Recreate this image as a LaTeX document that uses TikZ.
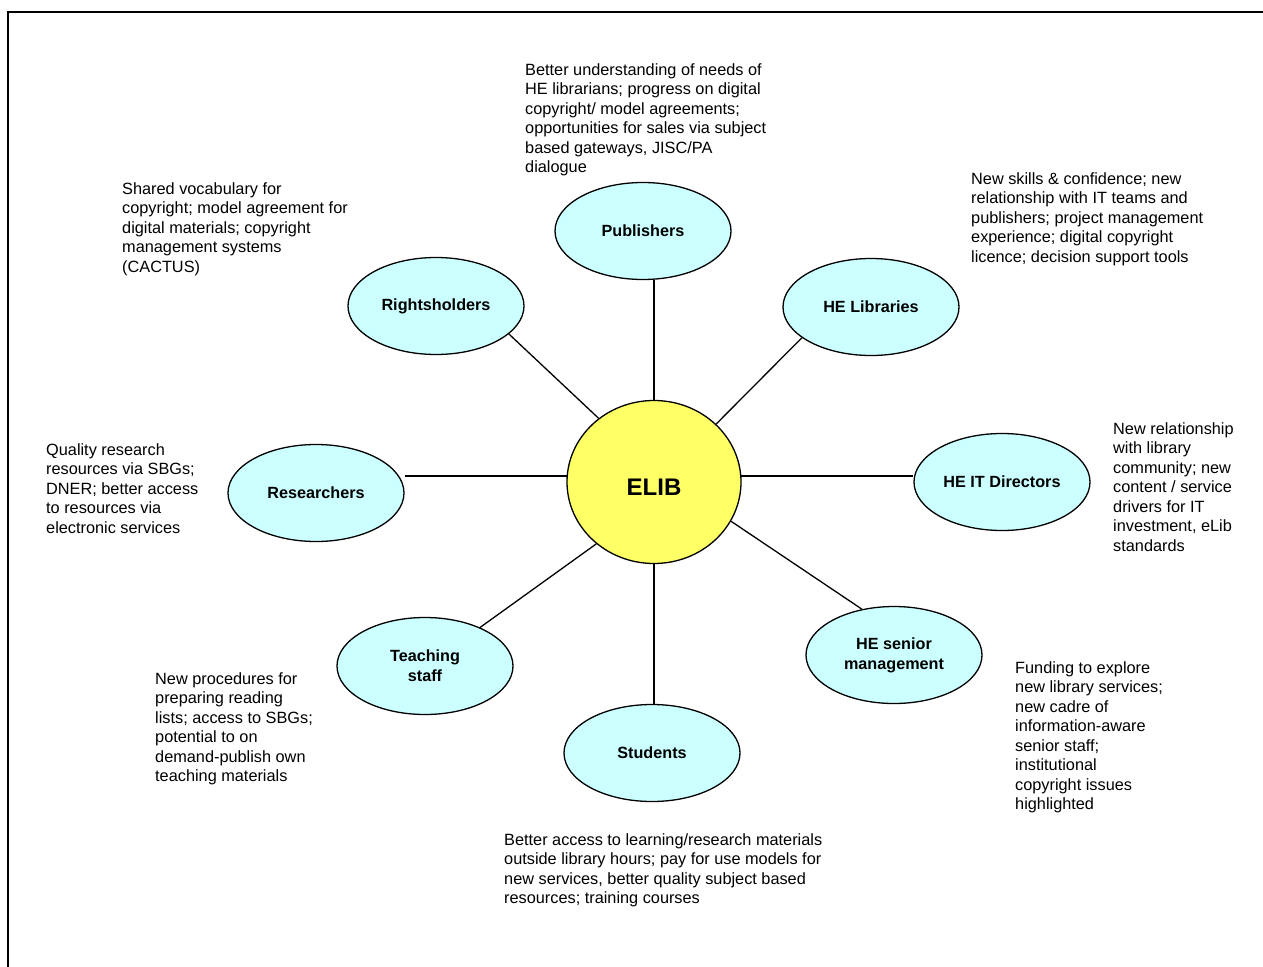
\documentclass[tikz,border=0pt]{standalone}
\usepackage{fontspec}
\setmainfont{Liberation Sans}
\usetikzlibrary{shapes.geometric}
\definecolor{lcyan}{HTML}{CCFFFF}
\definecolor{lyellow}{HTML}{FFFF66}
\begin{document}
\begin{tikzpicture}[x=1pt,y=-1pt,
  stake/.style={ellipse, draw, line width=1.3pt, fill=lcyan, minimum width=176pt, minimum height=97pt, inner sep=0pt, align=center, font=\fontsize{16.2}{20}\selectfont\bfseries},
  hub/.style={ellipse, draw, line width=1.3pt, fill=lyellow, minimum width=174pt, minimum height=163pt, inner sep=0pt, font=\fontsize{24}{28}\selectfont\bfseries},
  note/.style={anchor=north west, inner sep=0pt, align=left, font=\fontsize{16.3}{19.5}\selectfont},
  link/.style={line width=1.3pt},
  frame/.style={line width=1.6pt}]
\useasboundingbox (0,0) rectangle (1263,966);
\draw[frame] (8,990) -- (8,12) -- (1290,12);

% nodes
\node[hub] (elib) at (654,482) {\raisebox{-13.5pt}[0pt][0pt]{ELIB}};
\node[stake] (pub) at (643,231) {Publishers};
\node[stake] (rights) at (436,306) {Rightsholders};
\node[stake] (helib) at (871,307) {HE Libraries};
\node[stake] (res) at (316,493) {Researchers};
\node[stake] (itdir) at (1002,482) {HE IT Directors};
\node[stake] (teach) at (425,666) {Teaching\\staff};
\node[stake] (senior) at (894,655) {HE senior\\management};
\node[stake] (stud) at (652,753) {Students};

% connectors
\draw[link] (elib.north) -- (elib.north |- pub.south);
\draw[link] (elib.131) -- (rights.-21);
\draw[link] (elib.43) -- (helib.-156);
\draw[link] (elib.176) -- (elib.176 -| res.east);
\draw[link] (elib.4) -- (elib.4 -| itdir.west);
\draw[link] (elib.227) -- (teach.35);
\draw[link] (elib.-27) -- (senior.125);
\draw[link] (elib.south) -- (elib.south |- stud.north);

% notes
\node[note] (npub) at (525,63) {Better understanding of needs of\\HE librarians; progress on digital\\copyright/ model agreements;\\opportunities for sales via subject\\based gateways, JISC/PA\\dialogue};
\node[note] (nrights) at (122,182) {Shared vocabulary for\\copyright; model agreement for\\digital materials; copyright\\management systems\\(CACTUS)};
\node[note] (nhelib) at (971,172) {New skills \& confidence; new\\relationship with IT teams and\\publishers; project management\\experience; digital copyright\\licence; decision support tools};
\node[note] (nres) at (46,443) {Quality research\\resources via SBGs;\\DNER; better access\\to resources via\\electronic services};
\node[note] (nitdir) at (1113,422) {New relationship\\with library\\community; new\\content / service\\drivers for IT\\investment, eLib\\standards};
\node[note] (nteach) at (155,672) {New procedures for\\preparing reading\\lists; access to SBGs;\\potential to on\\demand-publish own\\teaching materials};
\node[note] (nsenior) at (1015,661) {Funding to explore\\new library services;\\new cadre of\\information-aware\\senior staff;\\institutional\\copyright issues\\highlighted};
\node[note] (nstud) at (504,833) {Better access to learning/research materials\\outside library hours; pay for use models for\\new services, better quality subject based\\resources; training courses};
\end{tikzpicture}
\end{document}
